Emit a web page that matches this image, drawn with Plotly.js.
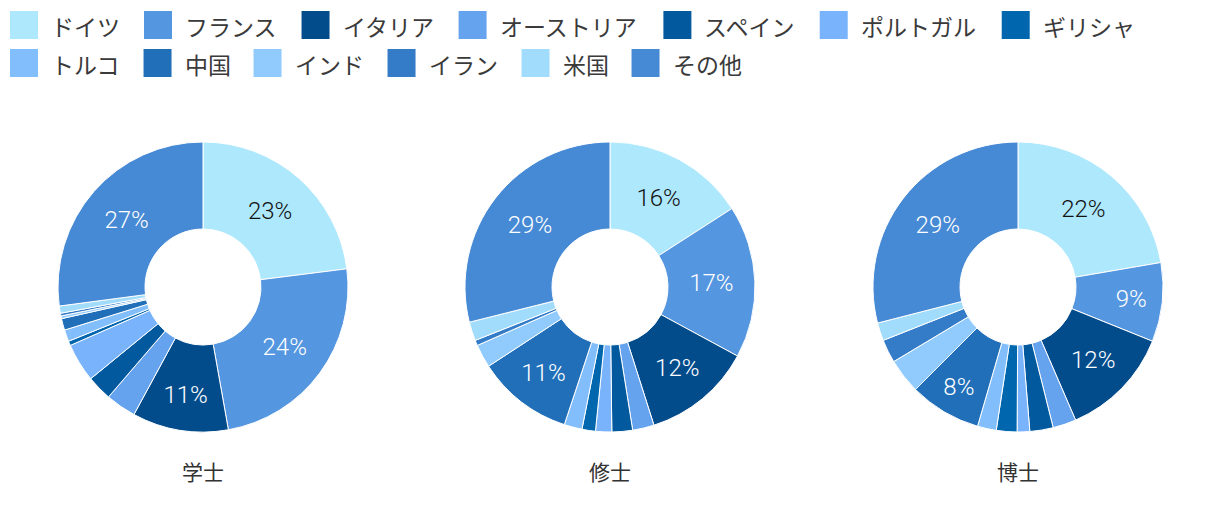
<!DOCTYPE html>
<html>
<head>
<meta charset="utf-8">
<script src="https://cdn.plot.ly/plotly-3.0.1.min.js"></script>
<style>
html,body{margin:0;padding:0;background:#fff;}
#chart{width:1220px;height:516px;}
#measure{position:absolute;visibility:hidden;white-space:nowrap;left:-9999px;top:0;}
</style>
</head>
<body>
<div id="chart"></div>
<span id="measure"></span>
<script>
// ---- data ----
const categories = ['ドイツ','フランス','イタリア','オーストリア','スペイン','ポルトガル','ギリシャ','トルコ','中国','インド','イラン','米国','その他'];
const colors = ['#AEE8FC','#5596E0','#034C8C','#65A3EE','#02599E','#79B3FC','#0066AD','#82BEFB','#206FB8','#91CBFD','#347BC8','#A1DCFD','#4689D4'];
const degreeNames = ['学士','修士','博士'];
const bachelor = [23.0, 24.2, 10.7, 3.4, 2.8, 4.3, 0.5, 1.3, 1.3, 0.3, 0.3, 0.8, 27.1];
const master   = [15.9, 17.0, 12.2, 2.4, 2.3, 1.8, 1.5, 2.0, 10.7, 2.6, 0.6, 2.1, 28.9];
const doctor   = [22.3, 8.8, 12.4, 2.6, 2.6, 1.4, 2.3, 2.1, 8.0, 3.9, 2.6, 2.0, 29.0];
const seriesList = [bachelor, master, doctor];

// ---- layout helpers ----
const W = 1220, H = 516;
const FONT = "'Noto Sans CJK JP', 'Noto Sans', sans-serif";
const NUMFONT = "Roboto, 'Noto Sans CJK JP', sans-serif";
const px = x => x / W;
const py = y => 1 - y / H;

const pieCentersX = [203, 610, 1018];
const pieCenterY = 287, pieR = 145;

const traces = seriesList.map((vals, i) => {
  const total = vals.reduce((a, b) => a + b, 0);
  return {
    type: 'pie',
    labels: categories,
    values: vals,
    sort: false,
    direction: 'clockwise',
    rotation: 0,
    hole: 0.4,
    marker: {colors: colors, line: {color: '#ffffff', width: 1}},
    textposition: 'inside',
    insidetextorientation: 'horizontal',
    texttemplate: vals.map(v => (v / total >= 0.05 ? '%{percent:.0%}' : '')),
    textfont: {family: NUMFONT, size: 24, weight: 300, color: vals.map((v, k) => k === 0 ? '#111111' : '#ffffff')},
    showlegend: false,
    hoverinfo: 'label+percent',
    domain: {
      x: [px(pieCentersX[i] - pieR), px(pieCentersX[i] + pieR)],
      y: [py(pieCenterY + pieR), py(pieCenterY - pieR)]
    }
  };
});

// custom legend (large square swatches)
const meas = document.getElementById('measure');
meas.style.fontFamily = FONT;
meas.style.fontSize = '24px';
function textWidth(t) { meas.textContent = t; return meas.getBoundingClientRect().width; }
const LEG_FS = 23;
const shapes = [];
const annotations = [];
let lx = 10, row = 0;
const rowY = [25, 63];
categories.forEach((c, k) => {
  const tw = textWidth(c);
  const itemW = 62 + tw;
  if (lx + 42 + tw > W - 10) { row += 1; lx = 10; }
  const cy = rowY[row];
  shapes.push({type: 'rect', xref: 'paper', yref: 'paper',
    x0: px(lx), x1: px(lx + 28), y0: py(cy + 14), y1: py(cy - 14),
    fillcolor: colors[k], line: {width: 0}});
  annotations.push({xref: 'paper', yref: 'paper', x: px(lx + 39), y: py(cy + 1),
    xanchor: 'left', yanchor: 'middle', showarrow: false, text: c,
    font: {family: FONT, size: LEG_FS, color: '#3a3a3a'}});
  lx += itemW;
});

degreeNames.forEach((n, i) => {
  annotations.push({xref: 'paper', yref: 'paper', x: px(pieCentersX[i]), y: py(471),
    xanchor: 'center', yanchor: 'middle', showarrow: false, text: n,
    font: {family: FONT, size: 21, color: '#333333'}});
});

const layout = {
  width: W, height: H,
  margin: {l: 0, r: 0, t: 0, b: 0},
  paper_bgcolor: '#ffffff',
  showlegend: false,
  font: {family: FONT},
  shapes: shapes,
  annotations: annotations
};

Plotly.newPlot('chart', traces, layout, {displayModeBar: false, staticPlot: true});
</script>
</body>
</html>
